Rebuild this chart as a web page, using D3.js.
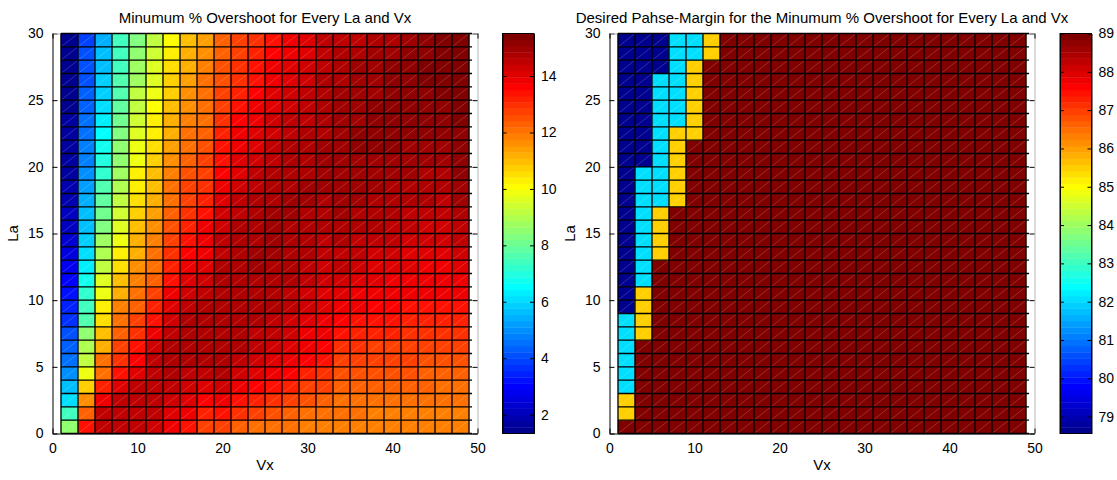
<!DOCTYPE html>
<html>
<head>
<meta charset="utf-8">
<script src="https://cdn.jsdelivr.net/npm/d3@7"></script>
<style>
  body { margin: 0; background: #fff; }
  text { font-family: "Liberation Sans", Arial, Helvetica, sans-serif; fill: #000; }
</style>
</head>
<body>
<svg id="fig" width="1117" height="480"></svg>
<script>
// Grid vertices of the surfaces (faces lie between consecutive vertices)
const vxEdges = [1, 3, 5, 7, 9, 11, 13, 15, 17, 19, 21, 23, 25, 27, 29, 31, 33, 35, 37, 39, 41, 43, 45, 47, 49];
const laEdges = [0, 1, 2, 3, 4, 5, 6, 7, 8, 9, 10, 11, 12, 13, 14, 15, 16, 17, 18, 19, 20, 21, 22, 23, 24, 25, 26, 27, 28, 29, 30];

// Axis / colorbar tick labels
const xTicks = [0, 10, 20, 30, 40, 50];
const yTicks = [0, 5, 10, 15, 20, 25, 30];
const overshootTicks = [2, 4, 6, 8, 10, 12, 14];
const phaseTicks = [79, 80, 81, 82, 83, 84, 85, 86, 87, 88, 89];

// Colour limits of each panel (min / max of the data)
const overshootLimits = [1.33, 15.51];
const phaseLimits = [78.56, 89];

// Minimum % overshoot: one array per Vx column, La = 0 .. 29
const overshootByVx = [
  [8.5,7.4,6.2,5.6,5.0,4.6,4.3,4.0,3.7,3.5,3.3,3.05,2.8,2.55,2.35,2.15,2.0,1.9,1.8,1.75,1.7,1.65,1.6,1.57,1.55,1.52,1.5,1.46,1.42,1.36],
  [13.39,12.32,11.61,10.73,9.84,9.3,8.95,8.42,7.71,7.53,7.2,6.8,6.4,6.15,5.94,5.75,5.58,5.4,5.23,5.05,4.87,4.75,4.6,4.5,4.4,4.3,4.2,4.1,4.0,3.9],
  [14.6,14.45,13.9,13.2,12.15,11.97,11.26,10.9,10.55,10.2,9.9,9.6,9.3,9.0,8.7,8.4,8.1,7.85,7.55,7.25,7.0,6.75,6.55,6.3,6.1,5.95,5.8,5.7,5.55,5.4],
  [14.6,14.6,14.45,14.1,13.4,13.0,12.67,12.3,11.97,11.8,11.26,10.9,10.55,10.2,9.84,9.65,9.5,9.3,8.95,8.8,8.6,8.42,8.3,8.07,7.9,7.75,7.7,7.5,7.4,7.36],
  [14.45,14.6,14.6,14.45,14.1,13.7,13.4,13.0,12.7,12.4,12.0,11.8,11.55,11.3,11.1,10.9,10.7,10.55,10.4,10.2,9.85,9.75,9.6,9.45,9.3,9.2,8.8,8.75,8.55,8.4],
  [14.3,14.45,14.45,14.6,14.6,14.45,14.25,13.9,13.39,13.2,12.65,12.3,12.1,11.97,11.8,11.6,11.4,11.2,11.05,10.9,10.7,10.55,10.37,10.2,10.19,9.84,9.7,9.65,9.5,9.3],
  [13.9,14.1,14.27,14.45,14.63,14.63,14.63,14.45,14.27,14.1,13.74,13.39,13.21,13.03,12.68,12.5,12.32,12.15,11.97,11.79,11.61,11.44,11.26,11.08,10.9,10.73,10.73,10.55,10.37,10.19],
  [13.39,13.74,14.09,14.27,14.45,14.63,14.63,14.63,14.63,14.45,14.27,14.09,13.92,13.56,13.39,13.21,13.03,12.85,12.68,12.5,12.32,12.15,11.97,11.79,11.61,11.61,11.44,11.26,11.08,10.9],
  [12.85,13.21,13.56,14.09,14.45,14.63,14.63,14.63,14.63,14.63,14.45,14.27,14.09,13.92,13.8,13.74,13.39,13.21,13.03,12.85,12.68,12.5,12.32,12.15,12.15,11.97,11.97,11.79,11.61,11.44],
  [12.68,13.39,13.74,14.27,14.63,14.63,14.7,14.73,14.73,14.73,14.7,14.63,14.63,14.45,14.45,14.27,14.27,14.09,13.92,13.56,13.39,13.39,13.21,13.03,12.85,12.68,12.5,12.5,12.32,12.32],
  [12.32,12.9,13.4,13.9,14.27,14.45,14.63,14.63,14.73,14.73,14.8,14.8,14.8,14.73,14.63,14.63,14.55,14.45,14.27,14.09,14.09,13.92,13.8,13.56,13.39,13.21,13.03,13.03,12.85,12.68],
  [12.15,12.68,13.21,13.56,14.09,14.27,14.45,14.45,14.63,14.63,14.73,14.8,14.87,14.87,14.8,14.8,14.73,14.63,14.45,14.45,14.27,14.09,14.09,13.92,13.74,13.56,13.39,13.39,13.21,13.03],
  [12.15,12.5,13.03,13.39,13.92,14.09,14.27,14.45,14.45,14.63,14.63,14.73,14.8,14.87,14.87,14.87,14.85,14.8,14.63,14.63,14.45,14.45,14.27,14.27,14.09,14.09,13.92,13.74,13.56,13.39],
  [11.97,12.32,12.68,13.21,13.56,13.92,14.09,14.27,14.27,14.45,14.45,14.63,14.63,14.73,14.8,14.8,14.87,14.87,14.8,14.73,14.63,14.63,14.45,14.45,14.27,14.27,14.09,14.09,13.74,13.74],
  [11.79,12.15,12.5,12.85,13.21,13.56,13.74,13.92,14.09,14.27,14.38,14.45,14.52,14.63,14.73,14.8,14.8,14.87,14.87,14.8,14.8,14.73,14.63,14.55,14.45,14.45,14.27,14.27,14.09,14.09],
  [11.79,11.97,12.32,12.68,13.03,13.39,13.56,13.74,13.92,14.09,14.17,14.27,14.38,14.45,14.52,14.63,14.73,14.8,14.87,14.87,14.87,14.87,14.8,14.8,14.73,14.73,14.63,14.52,14.45,14.45],
  [11.79,11.97,12.15,12.32,12.5,12.68,13.03,13.39,13.56,13.74,14.09,14.27,14.45,14.55,14.73,14.8,14.87,14.9,14.95,15.0,15.05,15.05,15.0,14.95,14.9,14.87,14.8,14.73,14.63,14.45],
  [11.79,11.97,12.15,12.32,12.5,12.68,12.9,13.21,13.39,13.74,13.92,14.09,14.27,14.45,14.55,14.73,14.8,14.87,14.95,15.0,15.05,15.09,15.09,15.05,15.0,14.98,14.9,14.87,14.8,14.55],
  [11.79,11.9,12.1,12.32,12.5,12.68,12.85,13.15,13.39,13.65,13.85,14.0,14.17,14.35,14.5,14.63,14.73,14.8,14.87,14.98,15.05,15.09,15.12,15.12,15.1,15.05,15.0,14.98,14.9,14.63],
  [11.79,11.9,12.1,12.32,12.5,12.68,12.85,13.1,13.3,13.56,13.74,13.92,14.09,14.27,14.45,14.55,14.63,14.73,14.8,14.9,15.0,15.09,15.12,15.16,15.16,15.16,15.12,15.09,15.0,14.73],
  [11.79,11.9,12.05,12.25,12.45,12.65,12.85,13.03,13.21,13.45,13.74,13.85,14.0,14.17,14.35,14.5,14.6,14.7,14.8,14.87,14.98,15.05,15.12,15.16,15.2,15.23,15.2,15.16,15.12,14.87],
  [11.79,11.88,12.0,12.2,12.4,12.6,12.8,13.0,13.2,13.4,13.74,13.8,13.92,14.09,14.27,14.4,14.5,14.63,14.73,14.8,14.9,15.0,15.09,15.16,15.23,15.27,15.3,15.3,15.27,15.16],
  [11.79,11.85,11.97,12.15,12.35,12.55,12.75,12.95,13.15,13.39,13.74,13.74,13.9,14.05,14.2,14.35,14.45,14.55,14.7,14.8,14.9,15.0,15.09,15.16,15.23,15.3,15.34,15.38,15.38,15.34],
  [11.79,11.85,11.97,12.15,12.32,12.5,12.7,12.9,13.1,13.35,13.74,13.74,14.0,14.27,14.45,14.52,14.73,14.87,14.98,15.09,15.16,15.16,15.23,15.34,15.34,15.34,15.44,15.44,15.51,15.51]
];

// Desired phase margin: one array per La row (La = 0 .. 29), Vx = 1 .. 47
const phaseMarginByLa = [
  [89,89,89,89,89,89,89,89,89,89,89,89,89,89,89,89,89,89,89,89,89,89,89,89],
  [85.5,89,89,89,89,89,89,89,89,89,89,89,89,89,89,89,89,89,89,89,89,89,89,89],
  [85.5,89,89,89,89,89,89,89,89,89,89,89,89,89,89,89,89,89,89,89,89,89,89,89],
  [82.07,89,89,89,89,89,89,89,89,89,89,89,89,89,89,89,89,89,89,89,89,89,89,89],
  [82.07,89,89,89,89,89,89,89,89,89,89,89,89,89,89,89,89,89,89,89,89,89,89,89],
  [82.07,89,89,89,89,89,89,89,89,89,89,89,89,89,89,89,89,89,89,89,89,89,89,89],
  [82.07,89,89,89,89,89,89,89,89,89,89,89,89,89,89,89,89,89,89,89,89,89,89,89],
  [82.07,85.5,89,89,89,89,89,89,89,89,89,89,89,89,89,89,89,89,89,89,89,89,89,89],
  [82.07,85.5,89,89,89,89,89,89,89,89,89,89,89,89,89,89,89,89,89,89,89,89,89,89],
  [78.56,85.5,89,89,89,89,89,89,89,89,89,89,89,89,89,89,89,89,89,89,89,89,89,89],
  [78.56,85.5,89,89,89,89,89,89,89,89,89,89,89,89,89,89,89,89,89,89,89,89,89,89],
  [78.56,82.07,89,89,89,89,89,89,89,89,89,89,89,89,89,89,89,89,89,89,89,89,89,89],
  [78.56,82.07,89,89,89,89,89,89,89,89,89,89,89,89,89,89,89,89,89,89,89,89,89,89],
  [78.56,82.07,85.5,89,89,89,89,89,89,89,89,89,89,89,89,89,89,89,89,89,89,89,89,89],
  [78.56,82.07,85.5,89,89,89,89,89,89,89,89,89,89,89,89,89,89,89,89,89,89,89,89,89],
  [78.56,82.07,85.5,89,89,89,89,89,89,89,89,89,89,89,89,89,89,89,89,89,89,89,89,89],
  [78.56,82.07,85.5,89,89,89,89,89,89,89,89,89,89,89,89,89,89,89,89,89,89,89,89,89],
  [78.56,82.07,82.07,85.5,89,89,89,89,89,89,89,89,89,89,89,89,89,89,89,89,89,89,89,89],
  [78.56,82.07,82.07,85.5,89,89,89,89,89,89,89,89,89,89,89,89,89,89,89,89,89,89,89,89],
  [78.56,82.07,82.07,85.5,89,89,89,89,89,89,89,89,89,89,89,89,89,89,89,89,89,89,89,89],
  [78.56,78.56,82.07,85.5,89,89,89,89,89,89,89,89,89,89,89,89,89,89,89,89,89,89,89,89],
  [78.56,78.56,82.07,85.5,89,89,89,89,89,89,89,89,89,89,89,89,89,89,89,89,89,89,89,89],
  [78.56,78.56,82.07,85.5,85.5,89,89,89,89,89,89,89,89,89,89,89,89,89,89,89,89,89,89,89],
  [78.56,78.56,82.07,82.07,85.5,89,89,89,89,89,89,89,89,89,89,89,89,89,89,89,89,89,89,89],
  [78.56,78.56,82.07,82.07,85.5,89,89,89,89,89,89,89,89,89,89,89,89,89,89,89,89,89,89,89],
  [78.56,78.56,82.07,82.07,85.5,89,89,89,89,89,89,89,89,89,89,89,89,89,89,89,89,89,89,89],
  [78.56,78.56,82.07,82.07,85.5,89,89,89,89,89,89,89,89,89,89,89,89,89,89,89,89,89,89,89],
  [78.56,78.56,78.56,82.07,85.5,89,89,89,89,89,89,89,89,89,89,89,89,89,89,89,89,89,89,89],
  [78.56,78.56,78.56,82.07,82.07,85.5,89,89,89,89,89,89,89,89,89,89,89,89,89,89,89,89,89,89],
  [78.56,78.56,78.56,82.07,82.07,85.5,89,89,89,89,89,89,89,89,89,89,89,89,89,89,89,89,89,89]
];

// MATLAB-style "jet" colormap with m entries
function jet(m) {
  const n = Math.ceil(m / 4);
  const u = [];
  for (let k = 1; k <= n; k++) u.push(k / n);
  for (let k = 1; k < n; k++) u.push(1);
  for (let k = n; k >= 1; k--) u.push(k / n);
  const off = Math.ceil(n / 2) - (m % 4 === 1 ? 1 : 0);
  const J = Array.from({ length: m }, () => [0, 0, 0]);
  const g = u.map((_, k) => off + k + 1);
  const r = g.map(v => v + n).filter(v => v <= m);
  const b = g.map(v => v - n).filter(v => v >= 1);
  const gg = g.filter(v => v <= m);
  r.forEach((row, k) => { J[row - 1][0] = u[k]; });
  gg.forEach((row, k) => { J[row - 1][1] = u[k]; });
  b.forEach((row, k) => { J[row - 1][2] = u[u.length - b.length + k]; });
  return J.map(c => d3.rgb(c[0] * 255, c[1] * 255, c[2] * 255).formatHex());
}
const jetColors = jet(64);

const svg = d3.select("#fig");
const FONT = 14;
const TITLE_FONT = 15;
const TOP = 33.5, BOTTOM = 433.5;

function drawPanel(p) {
  const g = svg.append("g");
  const x = d3.scaleLinear().domain([0, 50]).range([p.left, p.right]);
  const y = d3.scaleLinear().domain([0, 30]).range([BOTTOM, TOP]);
  const color = d3.scaleQuantize().domain(p.limits).range(jetColors);

  // Axes box and inward ticks (drawn beneath the surface)
  const axL = g.append("g").attr("transform", `translate(${p.left},0)`)
    .call(d3.axisLeft(y).tickValues(yTicks).tickSizeInner(-5).tickSizeOuter(0).tickPadding(9));
  const axR = g.append("g").attr("transform", `translate(${p.right},0)`)
    .call(d3.axisRight(y).tickValues(yTicks).tickSizeInner(-5).tickSizeOuter(0).tickFormat(""));
  const axB = g.append("g").attr("transform", `translate(0,${BOTTOM})`)
    .call(d3.axisBottom(x).tickValues(xTicks).tickSizeInner(-5).tickSizeOuter(0).tickPadding(10));
  const axT = g.append("g").attr("transform", `translate(0,${TOP})`)
    .call(d3.axisTop(x).tickValues(xTicks).tickSizeInner(-5).tickSizeOuter(0).tickFormat(""));
  [axL, axR, axB, axT].forEach(a => {
    a.selectAll("text").style("font-size", FONT + "px").attr("fill", "#000");
    a.selectAll("line").attr("stroke", "#000");
    a.select(".domain").attr("stroke", "#000");
  });
  axR.select(".domain").attr("stroke", "#b4b4b4");
  axT.select(".domain").attr("stroke", "#b4b4b4");

  // Surface faces
  const faces = [];
  for (let i = 0; i < vxEdges.length - 1; i++) {
    for (let j = 0; j < laEdges.length - 1; j++) {
      faces.push({ i, j, v: p.value(i, j) });
    }
  }
  const cells = g.append("g");
  cells.selectAll("rect").data(faces).join("rect")
    .attr("x", d => x(vxEdges[d.i]))
    .attr("y", d => y(laEdges[d.j + 1]))
    .attr("width", d => x(vxEdges[d.i + 1]) - x(vxEdges[d.i]))
    .attr("height", d => y(laEdges[d.j]) - y(laEdges[d.j + 1]))
    .attr("fill", d => color(d.v))
    .attr("stroke", d => color(d.v))
    .attr("stroke-width", 0.5);

  // Triangle split line of every face
  cells.selectAll("line").data(faces).join("line")
    .attr("x1", d => x(vxEdges[d.i]))
    .attr("y1", d => y(laEdges[d.j]))
    .attr("x2", d => x(vxEdges[d.i + 1]))
    .attr("y2", d => y(laEdges[d.j + 1]))
    .attr("stroke", "#ffffff")
    .attr("stroke-opacity", 0.3)
    .attr("stroke-width", 0.6);

  // Mesh edges
  const mesh = g.append("g").attr("stroke", "#000").attr("stroke-width", 1.3);
  const xa = x(vxEdges[0]), xb = x(vxEdges[vxEdges.length - 1]);
  mesh.selectAll("line.h").data(laEdges).join("line").attr("class", "h")
    .attr("x1", xa).attr("x2", xb + 3)
    .attr("y1", d => y(d)).attr("y2", d => y(d));
  mesh.selectAll("line.v").data(vxEdges).join("line").attr("class", "v")
    .attr("x1", d => x(d)).attr("x2", d => x(d))
    .attr("y1", y(laEdges[0])).attr("y2", y(laEdges[laEdges.length - 1]));

  // Title and axis labels
  const cx = (p.left + p.right) / 2;
  g.append("text").attr("x", cx).attr("y", 23).attr("text-anchor", "middle")
    .style("font-size", TITLE_FONT + "px").text(p.title);
  g.append("text").attr("x", cx).attr("y", 470).attr("text-anchor", "middle")
    .style("font-size", TITLE_FONT + "px").text("Vx");
  g.append("text").attr("transform", `translate(${p.left - 35},${(TOP + BOTTOM) / 2}) rotate(-90)`)
    .attr("text-anchor", "middle").style("font-size", TITLE_FONT + "px").text("La");

  // Colorbar
  const cbW = 31.5;
  const cb = g.append("g");
  const cy = d3.scaleLinear().domain(p.limits).range([BOTTOM, TOP]);
  const bandH = (BOTTOM - TOP) / jetColors.length;
  cb.selectAll("rect").data(jetColors).join("rect")
    .attr("x", p.cbLeft).attr("width", cbW)
    .attr("y", (d, k) => BOTTOM - (k + 1) * bandH)
    .attr("height", bandH + 0.4)
    .attr("fill", d => d);
  const cbR = cb.append("g").attr("transform", `translate(${p.cbLeft + cbW},0)`)
    .call(d3.axisRight(cy).tickValues(p.ticks).tickSizeInner(-4).tickSizeOuter(0).tickPadding(7));
  const cbL = cb.append("g").attr("transform", `translate(${p.cbLeft},0)`)
    .call(d3.axisLeft(cy).tickValues(p.ticks).tickSizeInner(-4).tickSizeOuter(0).tickFormat(""));
  [cbR, cbL].forEach(a => {
    a.selectAll("text").style("font-size", FONT + "px").attr("fill", "#000");
    a.selectAll("line").attr("stroke", "#000");
    a.select(".domain").attr("stroke", "#000");
  });
  cb.append("rect").attr("x", p.cbLeft).attr("y", TOP).attr("width", cbW).attr("height", BOTTOM - TOP)
    .attr("fill", "none").attr("stroke", "#000").attr("stroke-width", 1);
}

drawPanel({
  left: 52.5, right: 477.5, cbLeft: 502.5,
  limits: overshootLimits, ticks: overshootTicks,
  title: "Minumum % Overshoot for Every La and Vx",
  value: (i, j) => overshootByVx[i][j]
});

drawPanel({
  left: 609.5, right: 1034.5, cbLeft: 1060,
  limits: phaseLimits, ticks: phaseTicks,
  title: "Desired Pahse-Margin for the Minumum % Overshoot for Every La and Vx",
  value: (i, j) => phaseMarginByLa[j][i]
});
</script>
</body>
</html>
